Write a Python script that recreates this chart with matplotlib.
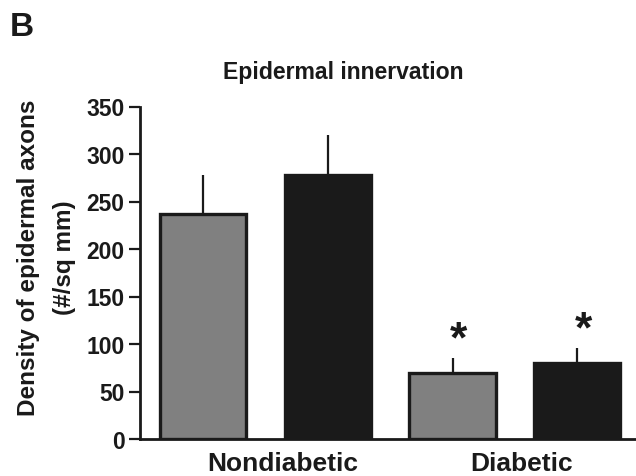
import matplotlib.pyplot as plt

plt.rcParams['font.family'] = ['Liberation Sans', 'DejaVu Sans']
plt.rcParams['font.weight'] = 'bold'

groups = ['Nondiabetic', 'Diabetic']
means = [237, 278, 70, 80]
errors = [41, 42, 15, 16]
colors = ['#808080', '#1a1a1a', '#808080', '#1a1a1a']
significant = [False, False, True, True]
yticks = [0, 50, 100, 150, 200, 250, 300, 350]

fig = plt.figure(figsize=(6.36, 4.77), dpi=100)
ax = fig.add_axes([140 / 636, 1 - 440 / 477, 1 - 140 / 636, (440 - 107.5) / 477])

x = range(len(means))
ax.bar(x, means, width=0.69, color=colors, edgecolor='#1a1a1a', linewidth=2.4, zorder=3)
ax.errorbar(x, means, yerr=[[0] * len(errors), errors], fmt='none', ecolor='#1a1a1a',
            elinewidth=1.6, capsize=0, zorder=2)

for i, (m, e, s) in enumerate(zip(means, errors, significant)):
    if s:
        ax.text(i + 0.05, m + e + 19, '*', ha='center', va='center', fontsize=32,
                fontweight='bold', color='#1a1a1a')

ax.set_xlim(-0.504, 3.47)
ax.set_ylim(0, 350)
ax.set_yticks(yticks)
ax.set_xticks([])
ax.tick_params(axis='y', length=8, width=1.6, labelsize=16.5, color='#1a1a1a',
               labelcolor='#1a1a1a', pad=3)
for lab in ax.get_yticklabels():
    lab.set_fontweight('bold')
for side in ['top', 'right']:
    ax.spines[side].set_visible(False)
for side in ['left', 'bottom']:
    ax.spines[side].set_linewidth(2)
    ax.spines[side].set_color('#1a1a1a')

# group labels under the pairs of bars
ax.text(0.64, -24 / 0.951, groups[0], ha='center', va='center', fontsize=19,
        fontweight='bold', color='#1a1a1a')
ax.text(2.55, -24 / 0.951, groups[1], ha='center', va='center', fontsize=19,
        fontweight='bold', color='#1a1a1a')

fig.text(343 / 636, 1 - 72 / 477, 'Epidermal innervation', ha='center', va='center',
         fontsize=16.6, fontweight='bold', color='#1a1a1a')
fig.text(21.5 / 636, 1 - 27.5 / 477, 'B', ha='center', va='center', fontsize=24,
         fontweight='bold', color='#1a1a1a')
fig.text(29 / 636, 1 - 258 / 477, 'Density of epidermal axons', rotation=90,
         ha='center', va='center', fontsize=17.5, fontweight='bold', color='#1a1a1a')
fig.text(64 / 636, 1 - 258 / 477, '(#/sq mm)', rotation=90,
         ha='center', va='center', fontsize=17.5, fontweight='bold', color='#1a1a1a')

fig.savefig('out.png', dpi=100)
